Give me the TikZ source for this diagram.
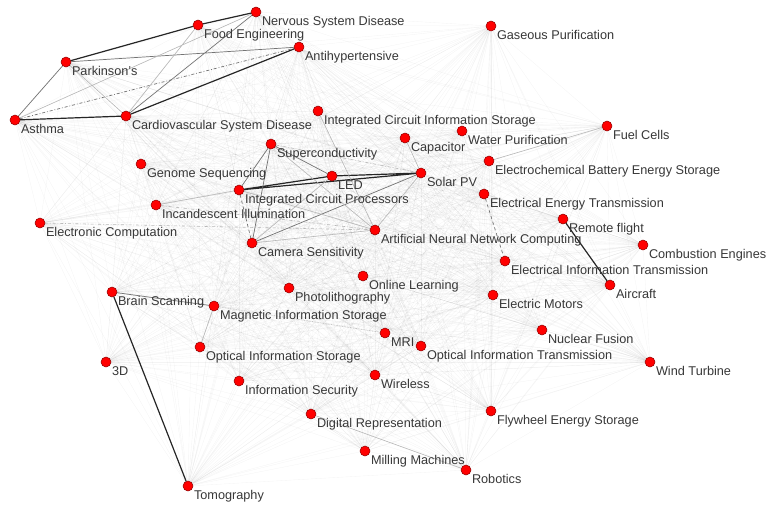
\documentclass[tikz,border=0pt]{standalone}
\usepackage{fontspec}
\setmainfont{Liberation Sans}
\pgfdeclarelayer{edges}
\pgfsetlayers{edges,main}

% id/x/y/text of every topic (pixels, y downwards)
\newcommand{\topics}{%
  nv/256/12/Nervous System Disease,
  fe/198/25/Food Engineering,
  ah/299/47/Antihypertensive,
  pk/66/62/Parkinson's,
  as/15/120/Asthma,
  cv/126/116/Cardiovascular System Disease,
  ics/318/111/Integrated Circuit Information Storage,
  gp/491/26/Gaseous Purification,
  fc/607/126/Fuel Cells,
  wp/462/131/Water Purification,
  cap/405/138/Capacitor,
  ebs/489/161/Electrochemical Battery Energy Storage,
  sc/271/144/Superconductivity,
  gs/141/164/Genome Sequencing,
  led/332/176/LED,
  pv/421/173/Solar PV,
  icp/239/190/Integrated Circuit Processors,
  ii/156/205/Incandescent Illumination,
  ec/40/223/Electronic Computation,
  eet/484/194/Electrical Energy Transmission,
  rf/563/219/Remote flight,
  cs/252/243/Camera Sensitivity,
  ann/375/230/Artificial Neural Network Computing,
  ce/643/245/Combustion Engines,
  eit/505/261/Electrical Information Transmission,
  ol/363/276/Online Learning,
  pl/289/288/Photolithography,
  ac/610/285/Aircraft,
  em/493/295/Electric Motors,
  bs/112/292/Brain Scanning,
  mis/214/306/Magnetic Information Storage,
  mri/385/333/MRI,
  oit/421/346/Optical Information Transmission,
  nf/542/330/Nuclear Fusion,
  ois/200/347/Optical Information Storage,
  td/106/362/3D,
  wt/650/362/Wind Turbine,
  is/239/381/Information Security,
  wl/375/375/Wireless,
  dr/311/414/Digital Representation,
  fes/491/411/Flywheel Energy Storage,
  mm/365/451/Milling Machines,
  rb/466/470/Robotics,
  tm/188/486/Tomography}

\begin{document}
\begin{tikzpicture}[x=1pt, y=-1pt,
            every node/.style = {inner sep = 0pt,
                                outer sep = 0pt},
            dot/.style   = {circle,
                            draw = red!55!black,
                            fill = red,
                            line width = 0.5pt,
                            minimum size = 10pt},
            lbl/.style   = {anchor = north west,
                            text = black!78,
                            font = \fontsize{12.7}{14}\selectfont},
            web/.style   = {draw = black, opacity = 0.045, line width = 0.35pt},
            tie/.style   = {draw = black!85, line width = 1.2pt},
            link/.style  = {draw = black!55, line width = 0.7pt},
            faint/.style = {draw = black!28, line width = 0.6pt}
            ]
  \useasboundingbox (0,0) rectangle (766,504);

  \foreach \n/\x/\y/\t in \topics {
    \node [dot] (\n) at (\x,\y) {};
    \node [lbl] (\n-text) at ([shift={(6,4.5)}]\n.center) {\t};
  }

  \begin{pgfonlayer}{edges}
    \fill [white] (0,0) rectangle (766,504);
    % light web between all topics
    \foreach \a/\ax/\ay/\at [count=\i] in \topics {
      \foreach \b/\bx/\by/\bt [count=\j] in \topics {
        \ifnum\j>\i \draw [web] (\a) -- (\b); \fi
      }
    }
    % strong ties
    \draw [tie] (pk) -- (fe) (fe) -- (nv) (cv) -- (ah) (as) -- (cv)
                (icp) -- (led) (icp) -- (pv) (led) -- (pv)
                (rf) -- (ac) (bs) -- (tm);
    \draw [link] (cs) -- (pv) (bs) -- (mis) (as) -- (pk) (pk) -- (ah)
                 (nv) -- (cv) (sc) -- (led) (sc) -- (icp) (sc) -- (cs);
    \draw [link, dashed] (icp) -- (cs) (eet) -- (eit);
    \draw [link, dash dot] (as) -- (ah);
    \draw [faint] (fe) -- (cv) (nv) -- (as) (pk) -- (cv) (sc) -- (ann)
                  (cs) -- (ann) (led) -- (cs) (icp) -- (ann) (cap) -- (pv)
                  (ics) -- (ann) (pv) -- (ann) (ebs) -- (fc) (mis) -- (ois)
                  (dr) -- (rb) (ii) -- (icp);
    \draw [faint, dash dot] (sc) -- (pv) (ec) -- (ann) (ii) -- (ann);
    \draw [faint, densely dotted] (mis) -- (mri);
  \end{pgfonlayer}
\end{tikzpicture}
\end{document}
